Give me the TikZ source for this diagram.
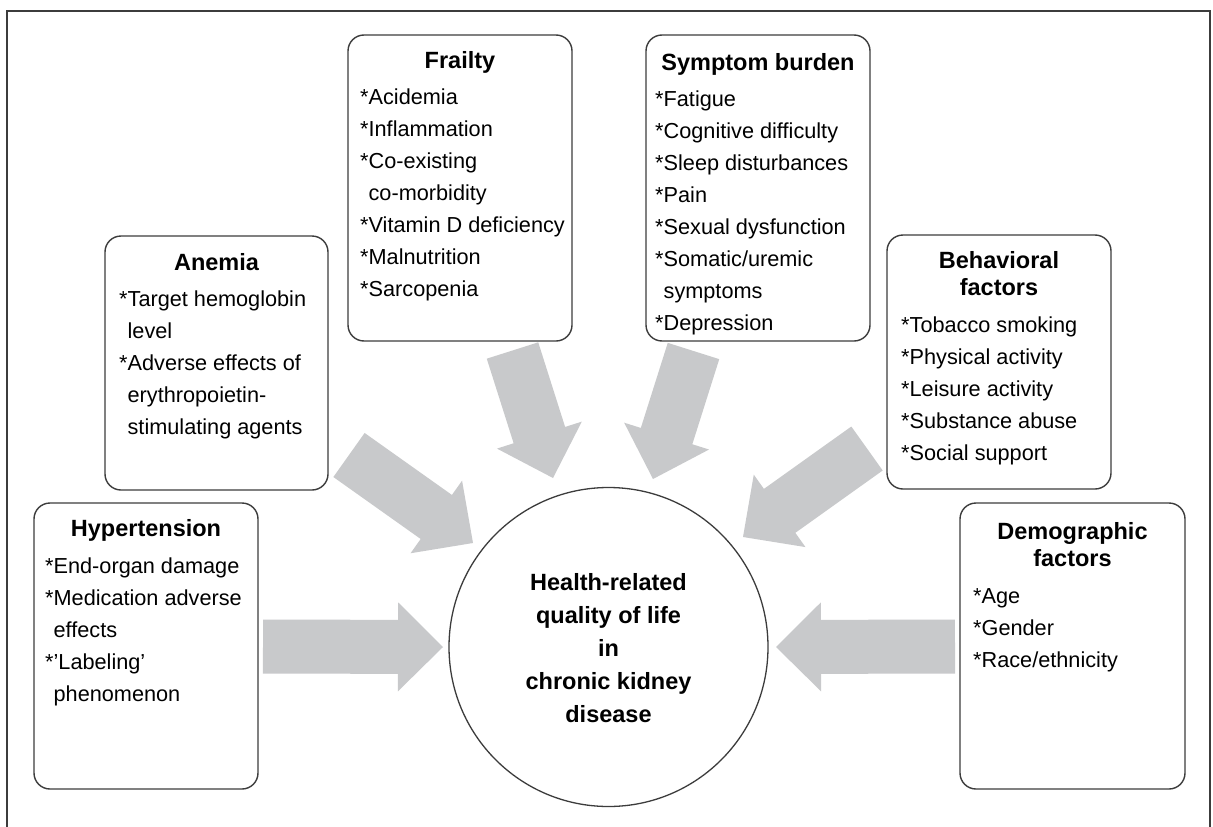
\documentclass[tikz,border=0pt]{standalone}
\usepackage{fontspec}
\setmainfont{Liberation Sans}
\usetikzlibrary{calc}
\definecolor{arrowgray}{RGB}{200,201,203}
\definecolor{linegray}{RGB}{60,60,60}
\newcommand{\blockarr}[2]{%
  \path ($(#2)!45pt!(#1)$) coordinate (tmpH);
  \fill[arrowgray] ($(#1)!27pt!90:(#2)$) -- ($(tmpH)!27pt!90:(#2)$) -- ($(tmpH)!44.5pt!90:(#2)$) -- (#2)
     -- ($(tmpH)!44.5pt!-90:(#2)$) -- ($(tmpH)!27pt!-90:(#2)$) -- ($(#1)!27pt!-90:(#2)$) -- cycle;
}
\begin{document}
\begin{tikzpicture}[x=1pt,y=1pt,
  fbox/.style={draw=linegray, line width=1.4pt, rounded corners=16pt, inner sep=0pt, outer sep=0pt, anchor=north west, fill=white},
  ttl/.style={font=\fontsize{23.5}{28}\selectfont\bfseries, anchor=base, inner sep=0pt},
  itm/.style={font=\fontsize{21.7}{26}\selectfont, anchor=base west, inner sep=0pt},
  ctr/.style={font=\fontsize{23.5}{28}\selectfont\bfseries, anchor=base, inner sep=0pt}]
\useasboundingbox (0,0) rectangle (1213,-827);
\fill[white] (0,0) rectangle (1213,-827);
% frame
\draw[linegray, line width=1.4pt] (7,-827) -- (7,-11) -- (1210,-11) -- (1210,-827);

% boxes
\node[fbox, minimum width=224pt, minimum height=306pt] (frailty) at (348,-35) {};
\node[fbox, minimum width=224pt, minimum height=306pt] (symptom) at (646,-35) {};
\node[fbox, minimum width=223pt, minimum height=254pt] (anemia) at (105,-236) {};
\node[fbox, minimum width=224pt, minimum height=254pt] (behav) at (887,-235) {};
\node[fbox, minimum width=224pt, minimum height=286pt] (hyper) at (34,-503) {};
\node[fbox, minimum width=225pt, minimum height=286pt] (demo) at (960,-503) {};

% central circle
\node[circle, draw=linegray, line width=1.3pt, minimum size=319pt, inner sep=0pt] (hrql) at (608.5,-647) {};

% titles
\node[ttl] (frailtyT) at (460,-68) {Frailty};
\node[ttl] (symptomT) at (758,-70) {Symptom burden};
\node[ttl] (anemiaT) at (216.5,-270) {Anemia};
\node[ttl] (behavT1) at (999,-268) {Behavioral};
\node[ttl] (behavT2) at (999,-295) {factors};
\node[ttl] (hyperT) at (146,-536) {Hypertension};
\node[ttl] (demoT1) at (1072.5,-539) {Demographic};
\node[ttl] (demoT2) at (1072.5,-566) {factors};

% items
\foreach \t [count=\i] in {*Acidemia,*Inflammation,*Co-existing,\phantom{*}co-morbidity,*Vitamin D deficiency,*Malnutrition,*Sarcopenia}
  \node[itm] (fr\i) at (360,{-104-32*(\i-1)}) {\t};
\foreach \t [count=\i] in {*Fatigue,*Cognitive difficulty,*Sleep disturbances,*Pain,*Sexual dysfunction,*Somatic/uremic,\phantom{*}symptoms,*Depression}
  \node[itm] (sy\i) at (655,{-106-32*(\i-1)}) {\t};
\foreach \t [count=\i] in {*Target hemoglobin,\phantom{*}level,*Adverse effects of,\phantom{*}erythropoietin-,\phantom{*}stimulating agents}
  \node[itm] (an\i) at (119,{-306-32*(\i-1)}) {\t};
\foreach \t [count=\i] in {*Tobacco smoking,*Physical activity,*Leisure activity,*Substance abuse,*Social support}
  \node[itm] (be\i) at (901,{-332-32*(\i-1)}) {\t};
\foreach \t [count=\i] in {*End-organ damage,*Medication adverse,\phantom{*}effects,*'Labeling',\phantom{*}phenomenon}
  \node[itm] (hy\i) at (45,{-573-32*(\i-1)}) {\t};
\foreach \t [count=\i] in {*Age,*Gender,*Race/ethnicity}
  \node[itm] (de\i) at (973,{-603-32*(\i-1)}) {\t};

% circle text
\foreach \t [count=\i] in {Health-related,quality of life,in,chronic kidney,disease}
  \node[ctr] (c\i) at (608.5,{-590-33*(\i-1)}) {\t};

% block arrows
\coordinate (hypA) at (263,-646.5);  \coordinate (hypB) at (443,-647);
\coordinate (demA) at (955,-646.5);  \coordinate (demB) at (776,-647);
\coordinate (frA) at (512.5,-350.5); \coordinate (frB) at (553,-478);
\coordinate (syA) at (693.5,-351);   \coordinate (syB) at (653,-479);
\coordinate (anA) at (349,-455);     \coordinate (anB) at (473,-543);
\coordinate (beA) at (867,-448.5);   \coordinate (beB) at (743,-537);
\blockarr{hypA}{hypB}
\blockarr{demA}{demB}
\blockarr{frA}{frB}
\blockarr{syA}{syB}
\blockarr{anA}{anB}
\blockarr{beA}{beB}
\end{tikzpicture}
\end{document}
